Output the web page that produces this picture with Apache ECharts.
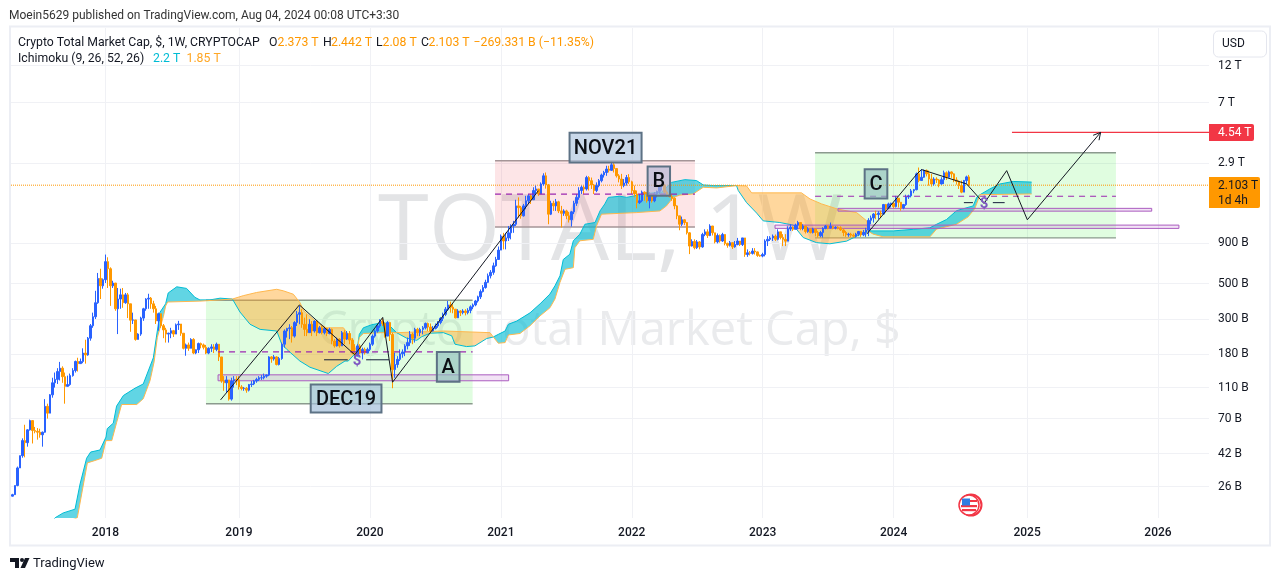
<!DOCTYPE html>
<html>
<head>
<meta charset="utf-8">
<title>TOTAL 1W</title>
<script src="https://cdn.jsdelivr.net/npm/echarts@6/dist/echarts.min.js"></script>
<style>
  html, body { margin: 0; padding: 0; background: #fff; }
  #chart { width: 1281px; height: 581px; }
</style>
</head>
<body>
<div id="chart"></div>
<script>
// values in billions of USD, x position counted in weeks from the first week of 2018
const firstWeek = -37
const firstOpen = 22.6
const closes = [
  23.1,26.4,34.1,40.8,50.8,49.3,59.4,68,58.8,58.2,57.4,55.3,57.4,83.7,75.8,99,118,124,139,146,
  129,112,115,131,141,161,156,161,182,177,226,271,309,379,540,485,530,690,622,485,
  505,347,400,425,379,425,373,294,295,222,240,303,347,400,405,373,347,291,323,271,
  255,240,243,252,240,275,278,243,195,205,195,222,182,191,209,205,198,182,195,199,
  192,207,172,121,118,123,93,121,124,123,111,108.5,109,106,115,116,121,124,127,127,
  130,132,172,167,172,154,168,207,251,260,263,233,284,320,328,277,257,245,277,251,
  290,245,263,245,260,242,257,217,202,223,202,245,223,242,220,182,174,202,182,192,
  182,192,207,233,251,270,290,280,233,284,239,143,154,166,180,185,202,212,239,226,
  257,245,257,263,280,266,251,260,270,284,302,320,345,367,355,345,304,336,328,336,
  328,339,357,367,389,413,446,473,510,561,590,649,712,816,1000,932,975,1050,1160,1190,
  1555,1515,1345,1555,1675,1800,1700,1945,1990,1850,2140,2410,2110,1378,1615,1555,1650,1445,1395,1445,
  1345,1270,1425,1615,1760,1945,2040,1990,2350,2245,2110,1945,2090,2245,2440,2530,2660,2610,2830,2680,
  2410,2300,2090,2170,2350,2210,1945,1850,1630,1675,1900,1850,1675,1800,1675,1850,1920,2070,2090,1900,
  1850,1780,1740,1555,1345,1190,1270,1220,1050,866,925,845,920,855,1025,1065,1010,1160,1050,920,
  1010,932,1025,900,875,910,855,885,932,885,975,765,785,778,805,795,755,748,765,932,
  955,975,1000,955,1065,980,955,930,1110,1140,1105,1175,1220,1120,1160,1070,1110,1055,1110,1055,
  1005,1055,1120,1160,1130,1155,1130,1140,1130,1095,1055,1020,1030,1015,1000,1030,1070,1020,1055,1095,
  1260,1305,1380,1370,1400,1380,1585,1510,1600,1615,1540,1740,1640,1510,1585,1770,1800,1935,1970,2480,
  2250,2360,2610,2480,2300,2140,2300,2270,2140,2280,2520,2360,2550,2480,2270,2220,2090,1900,2250,2373,
  2103
]
const highs = [
  23.4,26.4,34.8,40.8,52.5,64,60,69,68,62,61,60.4,58,93,87,100,127,137,146,160,
  150,137,131,135,146,163,170,168,195,221,230,278,328,451,585,622,540,765,735,635,
  522,505,470,465,470,437,437,373,328,295,243,309,352,405,432,412,390,362,328,323,
  278,263,245,263,255,280,291,278,243,209,212,226,226,192,212,212,209,205,198,207,
  207,212,207,172,130,130,123,127,130,130,130,114,111,111,116,121,123,127,130,132,
  135,133,174,174,177,174,172,212,257,263,277,270,290,336,362,345,305,320,298,290,
  293,293,270,270,263,263,263,260,223,228,226,251,254,251,251,226,207,207,207,197,
  197,197,212,239,257,277,298,302,284,290,287,245,183,174,192,192,207,228,251,245,
  263,263,263,270,284,284,280,270,280,290,308,328,356,389,385,371,345,345,340,345,
  345,350,365,375,395,420,460,490,530,580,610,680,740,860,1025,1050,1050,1160,1190,1250,
  1700,1760,1555,1600,1800,1850,1850,2040,2090,1990,2190,2500,2530,2140,1675,1675,1720,1675,1555,1480,
  1470,1425,1445,1675,1850,2040,2090,2090,2410,2400,2350,2140,2190,2300,2490,2590,2790,2790,2960,2900,
  2680,2470,2480,2300,2440,2470,2245,2090,1945,1850,1945,1920,1900,1900,1850,1900,1945,2110,2140,2140,
  1945,1920,1850,1760,1570,1345,1330,1280,1230,1060,955,955,945,932,1050,1105,1105,1190,1160,1050,
  1040,1025,1050,1025,910,932,910,932,975,932,975,975,825,805,840,840,800,765,785,955,
  1000,1000,1025,1025,1105,1050,1030,1030,1155,1190,1155,1200,1250,1220,1190,1160,1140,1120,1130,1120,
  1080,1080,1140,1175,1175,1220,1160,1155,1155,1155,1120,1080,1050,1050,1040,1050,1080,1080,1095,1130,
  1300,1350,1400,1450,1440,1450,1600,1600,1630,1630,1630,1800,1740,1640,1600,1830,1830,1990,1990,2530,
  2720,2660,2640,2640,2600,2480,2360,2360,2300,2360,2600,2570,2600,2570,2500,2360,2250,2250,2270,2415,
  2442
]
const lows = [
  22.5,23,26.1,34.1,39.6,39.8,46.5,58.8,48.7,56.5,51.5,53,46.5,57,70,76,95,110,116,122,
  118,87,112,113,129,137,139,156,157,156,175,218,263,299,373,400,465,505,470,362,
  470,337,240,347,352,373,303,248,278,218,222,234,291,337,347,347,328,278,252,263,
  226,212,212,226,230,240,255,234,192,175,188,195,179,179,182,195,192,179,179,185,
  182,187,162,118,105,102,91,91,110,114,107,105.6,105,102,104,111,114,118,121,123,
  124,127,130,158,163,152,152,165,197,228,223,212,228,270,277,263,233,233,245,233,
  245,233,242,239,239,233,239,207,197,200,197,202,207,220,207,179,170,174,179,166,
  178,182,187,202,228,245,263,270,228,233,217,109,127,147,162,170,174,192,202,207,
  212,233,233,239,257,251,242,249,257,263,277,290,312,336,328,325,302,305,312,320,
  315,320,325,345,360,380,400,440,465,505,540,570,640,712,825,825,825,932,955,1050,
  1160,1310,1290,1330,1480,1600,1600,1700,1850,1800,1850,2090,2000,1190,1360,1445,1445,1400,1135,1345,
  1280,1220,1150,1380,1555,1700,1850,1850,1945,1945,1990,1850,1900,2040,2190,2350,2410,2530,2590,2530,
  2350,2190,1990,2040,2090,2140,1850,1760,1500,1600,1640,1675,1630,1500,1630,1640,1760,1850,1945,1850,
  1780,1760,1675,1480,1280,1090,1160,1175,1025,770,860,825,830,825,845,1000,975,1000,1010,900,
  900,910,920,875,845,860,830,845,875,866,866,740,740,755,765,765,740,740,735,745,
  866,932,932,932,940,955,865,865,955,1080,1080,1105,1105,1090,1090,1040,1050,1040,1040,1000,
  980,985,980,1105,1105,1120,1105,1105,1105,1080,1000,990,990,990,980,980,1000,990,1000,990,
  1000,1190,1220,1280,1280,1310,1370,1410,1480,1520,1500,1520,1520,1450,1480,1555,1720,1760,1870,1950,
  2195,2270,2340,2390,2090,2060,2090,2170,2040,2120,2140,2270,2340,2340,2195,2120,1990,1870,1930,2140,
  2080
]

// ichimoku leading spans, read as [week, value]
const spanA = [
  [-22,15],[-20,16.5],[-16.8,17.7],[-12.1,18.7],[-10.1,27],[-7.5,39.3],[-5.9,43],[-2.2,44.3],[0.2,53.5],[0.7,60.5],
  [3.1,65.5],[4.4,84],[7.1,98],[11.7,109],[15,116],[19,170],[21,279],[21.6,329],[23.9,374],[24.9,437],
  [28.3,478],[32.2,467],[35.5,410],[37.5,395],[41.5,395],[45.5,405],[50.4,400],[53.4,331],[57.4,277],[61.4,257],
  [68,251],[70,207],[72,192],[77.2,162],[81.2,148],[88.5,135],[91.8,150],[95.1,162],[96.4,162],[99.8,185],
  [100.8,239],[102.4,263],[105.7,275],[110.3,284],[112.3,277],[115.6,245],[119.6,226],[123.6,219],[125.6,231],[128.9,243],
  [134.2,245],[137.5,234],[138.8,207],[143.4,200],[146.7,202],[151.4,225],[154,230],[156,239],[158.7,251],[160,277],
  [163.3,290],[168.6,327],[172.6,373],[176.5,430],[178.5,485],[180.5,561],[181.8,712],[184.4,768],[185.8,935],[188.4,1030],
  [190.4,1190],[194.4,1220],[196.4,1445],[198.3,1600],[199.7,1760],[204.3,1790],[207,1760],[213.6,1850],[220.8,1900],[224.8,2190],
  [230.1,2280],[234.7,2250],[237.4,2110],[241.4,2090],[250.6,2090],[251.3,1945],[254.6,1630],[258.6,1400],[261.2,1250],[267.8,1220],
  [273.1,1175],[277.1,980],[282.4,910],[287.7,895],[294.3,930],[298.3,1000],[302.7,1080],[312.9,1080],[320.8,1105],[327.4,1130],
  [330.1,1190],[334,1275],[338,1450],[344.6,1555],[346,1760],[347.3,1830],[351.2,1990],[355.2,2140],[360.5,2220],[367.8,2200]
]
const spanB = [
  [-22,14],[-11.2,16.5],[-7.2,36.7],[-4.2,38],[-1.5,39.3],[0.2,50.8],[2.5,50.8],[4.4,66],[6.4,86],[12.4,86],
  [15,93.5],[17.7,122],[19.3,160],[20.6,229],[23,311],[23.9,362],[24.7,383],[37.5,388],[45.5,395],[50.4,400],
  [54.7,420],[60,440],[68,461],[70.6,451],[74.6,429],[77.2,380],[78.8,336],[83.9,284],[87.8,263],[94.5,263],
  [97.8,223],[99.8,185],[100.8,228],[102.4,242],[110.3,245],[115.6,245],[128.9,249],[134.2,251],[152.7,245],[154,230],
  [156,210],[158.7,212],[160,237],[164.6,242],[168.6,271],[172.6,313],[176.5,352],[178.5,400],[180.5,510],[182.5,617],
  [185.8,632],[186.4,845],[188.4,935],[193.7,955],[195,1160],[197,1378],[210.9,1410],[220.2,1445],[222.8,1555],[225.5,1760],
  [228.1,1820],[233.4,1850],[237.4,2040],[242.7,2020],[250.6,2090],[254.6,2080],[256.6,1880],[276.4,1880],[279.8,1720],[284.4,1600],
  [291,1480],[298.3,1410],[302.3,1250],[302.7,1080],[304.9,1030],[308.9,990],[327.4,990],[330.1,1110],[338,1190],[342.6,1325],
  [345.3,1500],[347.3,1830],[347.9,1850],[367.8,1850]
]
const spanCrossings = [-22, 50.4, 99.8, 115.6, 154, 250.6, 302.7, 367.8]

const yearLabels = ['2018', '2019', '2020', '2021', '2022', '2023', '2024', '2025', '2026']
const yearWeeks = [0, 53, 105, 157, 209, 261, 313, 366, 418]
const priceTicks = [12000, 7000, 2900, 900, 500, 300, 180, 110, 70, 42, 26]
const priceTickLabels = ['12 T', '7 T', '2.9 T', '900 B', '500 B', '300 B', '180 B', '110 B', '70 B', '42 B', '26 B']

// drawings on the chart: [week, week, value, value]
const greenZones = [[39.9, 145.8, 393, 87], [281.8, 401.3, 3370, 975]]
const pinkZones = [[154.7, 234.1, 3000, 1143]]
const purpleBars = [[44.7, 160.1, 132.5, 121.5], [290.9, 415.5, 1500, 1440], [265.9, 426.3, 1175, 1120]]
const labelBoxes = [
  { text: 'NOV21', box: [184.3, 212.9, 4510, 2930], fill: 'rgba(178,199,224,0.7)' },
  { text: 'DEC19', box: [81.5, 109.6, 115, 76.5], fill: 'rgba(164,191,218,0.7)' },
  { text: 'A', box: [131.6, 140.6, 185, 120], fill: 'rgba(144,190,190,0.65)' },
  { text: 'B', box: [215.3, 224.2, 2760, 1800], fill: 'rgba(178,180,210,0.65)' },
  { text: 'C', box: [301.5, 310.5, 2650, 1730], fill: 'rgba(144,190,190,0.65)' }
]
const dashedLines = [[44.7, 145.8, 185], [154.7, 234.1, 1845], [281.8, 401.3, 1790]]
const shortLines = [[86.8, 96.2, 165], [103.5, 112.6, 165], [340.9, 344.5, 1630], [352.4, 357.1, 1630]]
const trendOne = [[45.7, 92], [77, 367], [99, 177.5], [110.1, 306], [114, 119], [171.9, 1940]]
const trendTwo = [[302.3, 1030], [322.2, 2470], [324.1, 2640], [342, 2140], [348.9, 1610], [357.9, 2600], [366.1, 1270], [395.2, 4540]]
const flagMarks = [[99.9, 162], [348.9, 1600]]
const targetPrice = 4540
const targetStart = 360
const lastPrice = 2103

const weekMin = -37.53
const weekMax = 438.25
const priceMin = 16.44
const priceMax = 20788
const uiFont = 'Roboto, "Noto Sans", sans-serif'
const legendFont = '12.25px ' + uiFont

const candles = closes.map((c, i) => {
  const o = i === 0 ? firstOpen : closes[i - 1]
  return [firstWeek + i, o, c, Math.min(lows[i], o, c), Math.max(highs[i], o, c)]
})

function polygonBetween (from, to) {
  const inside = p => p[0] >= from - 0.01 && p[0] <= to + 0.01
  return spanA.filter(inside).concat(spanB.filter(inside).reverse())
}
const cloudParts = spanCrossings.slice(1).map((to, i) => ({
  points: polygonBetween(spanCrossings[i], to),
  fill: i % 2 === 0 ? 'rgba(0,188,212,0.62)' : 'rgba(255,167,38,0.45)'
}))

function drawZone (zone, api, fill, edge) {
  const a = api.coord([zone[0], zone[2]])
  const b = api.coord([zone[1], zone[3]])
  return {
    type: 'group',
    children: [
      { type: 'rect', shape: { x: a[0], y: a[1], width: b[0] - a[0], height: b[1] - a[1] }, style: { fill: fill } },
      { type: 'line', shape: { x1: a[0], y1: a[1], x2: b[0], y2: a[1] }, style: { stroke: edge, lineWidth: 1.4 } },
      { type: 'line', shape: { x1: a[0], y1: b[1], x2: b[0], y2: b[1] }, style: { stroke: edge, lineWidth: 1.4 } }
    ]
  }
}

const helperSeries = (name, data, color, width, type, z) => ({
  name: name,
  type: 'line',
  data: data,
  z: z,
  symbol: 'none',
  silent: true,
  animation: false,
  lineStyle: { color: color, width: width, type: type || 'solid' }
})

let option = {
  animation: false,
  backgroundColor: '#fff',
  textStyle: { fontFamily: uiFont },
  grid: { left: 11, right: 72, top: 28, bottom: 63 },
  xAxis: {
    type: 'value',
    min: weekMin,
    max: weekMax,
    axisLine: { show: false },
    axisTick: { show: false, customValues: yearWeeks },
    splitLine: { show: true, lineStyle: { color: '#f0f1f5', width: 1 } },
    axisLabel: {
      customValues: yearWeeks,
      color: '#131722',
      fontSize: 12,
      fontWeight: 500,
      margin: 9,
      hideOverlap: false,
      formatter: v => yearLabels[yearWeeks.indexOf(Math.round(v))]
    }
  },
  yAxis: {
    type: 'log',
    position: 'right',
    min: priceMin,
    max: priceMax,
    axisLine: { show: false },
    axisTick: { show: false, customValues: priceTicks },
    splitLine: { show: true, lineStyle: { color: '#f0f1f5', width: 1 } },
    axisLabel: {
      customValues: priceTicks,
      color: '#131722',
      fontSize: 12,
      margin: 9,
      formatter: v => {
        const i = priceTicks.findIndex(t => Math.abs(t - v) < 0.01 * t)
        return i < 0 ? '' : priceTickLabels[i]
      }
    }
  },
  series: [
    {
      type: 'custom',
      name: 'zones',
      z: 1,
      silent: true,
      clip: true,
      data: greenZones.concat(pinkZones).map(z => [z[0], z[2]]),
      renderItem: (params, api) => {
        const i = params.dataIndex
        return i < greenZones.length
          ? drawZone(greenZones[i], api, 'rgba(0,238,0,0.12)', '#8b9a8e')
          : drawZone(pinkZones[i - greenZones.length], api, 'rgba(242,54,69,0.13)', '#a59597')
      }
    },
    {
      type: 'custom',
      name: 'cloud',
      z: 2,
      silent: true,
      clip: true,
      data: cloudParts.map(p => p.points[0]),
      renderItem: (params, api) => {
        const part = cloudParts[params.dataIndex]
        return {
          type: 'polygon',
          shape: { points: part.points.map(p => api.coord(p)) },
          style: { fill: part.fill }
        }
      }
    },
    helperSeries('Senkou A', spanA, '#00bcd4', 1, 'solid', 2),
    helperSeries('Senkou B', spanB, '#ffb74d', 1, 'solid', 2),
    {
      type: 'custom',
      name: 'bars',
      z: 3,
      silent: true,
      clip: true,
      data: purpleBars.map(b => [b[0], b[2]]),
      renderItem: (params, api) => {
        const bar = purpleBars[params.dataIndex]
        const a = api.coord([bar[0], bar[2]])
        const b = api.coord([bar[1], bar[3]])
        return {
          type: 'rect',
          shape: { x: a[0], y: a[1], width: b[0] - a[0], height: b[1] - a[1] },
          style: { fill: 'rgba(156,39,176,0.13)', stroke: '#ab5cc0', lineWidth: 1 }
        }
      }
    },
    helperSeries('last', [[weekMin, lastPrice], [weekMax, lastPrice]], '#ff9800', 1, 'dotted', 3),
    helperSeries('target', [[targetStart, targetPrice], [weekMax, targetPrice]], '#f23645', 1.2, 'solid', 4),
    {
      type: 'candlestick',
      name: 'TOTAL',
      z: 4,
      barWidth: 2,
      silent: true,
      data: candles,
      itemStyle: {
        color: '#2962ff',
        color0: '#ff9800',
        borderColor: '#2962ff',
        borderColor0: '#ff9800',
        borderWidth: 1
      }
    }
  ]
    .concat(dashedLines.map((d, i) => helperSeries('dash' + i, [[d[0], d[2]], [d[1], d[2]]], '#9c27b0', 1.2, [6, 5], 5)))
    .concat(shortLines.map((d, i) => helperSeries('short' + i, [[d[0], d[2]], [d[1], d[2]]], '#131d3a', 1, 'solid', 5)))
    .concat([
      helperSeries('trend one', trendOne, '#131722', 1, 'solid', 6),
      helperSeries('trend two', trendTwo, '#131722', 1, 'solid', 6),
      {
        type: 'custom',
        name: 'arrow',
        z: 6,
        silent: true,
        data: [trendTwo[trendTwo.length - 1]],
        renderItem: (params, api) => {
          const tip = api.coord(trendTwo[trendTwo.length - 1])
          const back = api.coord(trendTwo[trendTwo.length - 2])
          const angle = Math.atan2(back[1] - tip[1], back[0] - tip[0])
          const wing = d => [tip[0] + 8 * Math.cos(angle + d), tip[1] + 8 * Math.sin(angle + d)]
          return {
            type: 'polyline',
            shape: { points: [wing(0.5), tip, wing(-0.5)] },
            style: { stroke: '#131722', lineWidth: 1, fill: null }
          }
        }
      },
      {
        type: 'custom',
        name: 'flags',
        z: 7,
        silent: true,
        data: flagMarks,
        renderItem: (params, api) => {
          const p = api.coord(flagMarks[params.dataIndex])
          return {
            type: 'text',
            x: p[0],
            y: p[1],
            style: {
              text: '$', fill: '#7e57c2', font: 'bold 15px ' + uiFont,
              align: 'center', verticalAlign: 'middle'
            }
          }
        }
      },
      {
        type: 'custom',
        name: 'labels',
        z: 7,
        silent: true,
        data: labelBoxes.map(l => [l.box[0], l.box[2]]),
        renderItem: (params, api) => {
          const item = labelBoxes[params.dataIndex]
          const a = api.coord([item.box[0], item.box[2]])
          const b = api.coord([item.box[1], item.box[3]])
          return {
            type: 'group',
            children: [
              {
                type: 'rect',
                shape: { x: a[0], y: a[1], width: b[0] - a[0], height: b[1] - a[1] },
                style: { fill: item.fill, stroke: '#5d7285', lineWidth: 2 }
              },
              {
                type: 'text',
                x: (a[0] + b[0]) / 2,
                y: (a[1] + b[1]) / 2 + 1,
                style: {
                  text: item.text, fill: '#0b0e14', font: '500 20px ' + uiFont,
                  align: 'center', verticalAlign: 'middle'
                }
              }
            ]
          }
        }
      }
    ]),
  graphic: [
    { type: 'text', z: -1, left: 378, top: 188, style: { text: 'TOTAL, 1W', fill: '#e3e4e6', font: '92px "Open Sans", sans-serif' } },
    { type: 'text', z: -1, left: 318, top: 308, style: { text: 'Crypto Total Market Cap, $', fill: '#eaebed', font: '47px "Open Sans", sans-serif' } },

    { type: 'rect', z: 10, silent: true, shape: { x: 10, y: 26.5, width: 1260, height: 519 }, style: { fill: null, stroke: '#eceef4', lineWidth: 2 } },
    { type: 'text', z: 10, x: 9, y: 10, style: { text: 'Moein5629 published on TradingView.com, Aug 04, 2024 00:08 UTC+3:30', fill: '#333', font: '12px ' + uiFont } },

    { type: 'text', z: 10, x: 18, y: 37, style: { text: 'Crypto Total Market Cap, $, 1W, CRYPTOCAP', fill: '#131722', font: legendFont } },
    { type: 'text', z: 10, x: 269, y: 37, style: { text: 'O', fill: '#131722', font: legendFont } },
    { type: 'text', z: 10, x: 277.5, y: 37, style: { text: '2.373 T', fill: '#ff9800', font: legendFont } },
    { type: 'text', z: 10, x: 323, y: 37, style: { text: 'H', fill: '#131722', font: legendFont } },
    { type: 'text', z: 10, x: 331, y: 37, style: { text: '2.442 T', fill: '#ff9800', font: legendFont } },
    { type: 'text', z: 10, x: 376, y: 37, style: { text: 'L', fill: '#131722', font: legendFont } },
    { type: 'text', z: 10, x: 382.5, y: 37, style: { text: '2.08 T', fill: '#ff9800', font: legendFont } },
    { type: 'text', z: 10, x: 421, y: 37, style: { text: 'C', fill: '#131722', font: legendFont } },
    { type: 'text', z: 10, x: 428.5, y: 37, style: { text: '2.103 T', fill: '#ff9800', font: legendFont } },
    { type: 'text', z: 10, x: 473.5, y: 37, style: { text: '\u2212269.331 B (\u221211.35%)', fill: '#ff9800', font: legendFont } },
    { type: 'text', z: 10, x: 18, y: 53, style: { text: 'Ichimoku (9, 26, 52, 26)', fill: '#131722', font: legendFont } },
    { type: 'text', z: 10, x: 153, y: 53, style: { text: '2.2 T', fill: '#00bcd4', font: legendFont } },
    { type: 'text', z: 10, x: 186.5, y: 53, style: { text: '1.85 T', fill: '#ffa726', font: legendFont } },

    { type: 'rect', z: 10, shape: { x: 1213.5, y: 31, width: 53, height: 26, r: 5 }, style: { fill: '#fff', stroke: '#e4e6ee', lineWidth: 1 } },
    { type: 'text', z: 10, x: 1222, y: 38, style: { text: 'USD', fill: '#131722', font: '12px ' + uiFont } },

    { type: 'rect', z: 10, shape: { x: 1209, y: 124, width: 45, height: 17, r: [0, 2, 2, 0] }, style: { fill: '#f23645' } },
    { type: 'text', z: 11, x: 1218, y: 127, style: { text: '4.54 T', fill: '#fff', font: '12px ' + uiFont } },
    { type: 'rect', z: 10, shape: { x: 1209, y: 177, width: 51, height: 31, r: [0, 2, 2, 0] }, style: { fill: '#ff9800' } },
    { type: 'text', z: 11, x: 1218, y: 180, style: { text: '2.103 T', fill: '#131722', font: '12px ' + uiFont } },
    { type: 'text', z: 11, x: 1218, y: 195, style: { text: '1d 4h', fill: '#131722', font: '12px ' + uiFont } },

    // TradingView mark
    { type: 'polygon', z: 10, shape: { points: [[10, 558], [19, 558], [19, 568], [15, 568], [15, 562], [10, 562]] }, style: { fill: '#131722' } },
    { type: 'circle', z: 10, shape: { cx: 22, cy: 560, r: 2 }, style: { fill: '#131722' } },
    { type: 'polygon', z: 10, shape: { points: [[25, 558], [29.5, 558], [25, 568], [20.5, 568]] }, style: { fill: '#131722' } },
    { type: 'text', z: 10, x: 33, y: 557, style: { text: 'TradingView', fill: '#131722', font: '13px ' + uiFont } },

    // US flag badge
    { type: 'circle', z: 10, shape: { cx: 971, cy: 505, r: 10.5 }, style: { fill: '#fff', stroke: '#f23645', lineWidth: 2 } },
    { type: 'circle', z: 10, shape: { cx: 969, cy: 505, r: 10 }, style: { fill: '#fff', stroke: '#f23645', lineWidth: 1.5 } },
    { type: 'rect', z: 11, shape: { x: 961, y: 505, width: 16, height: 2.2 }, style: { fill: '#f23645' } },
    { type: 'rect', z: 11, shape: { x: 962, y: 509, width: 14, height: 2.2 }, style: { fill: '#f23645' } },
    { type: 'rect', z: 11, shape: { x: 962, y: 498.5, width: 8, height: 7 }, style: { fill: '#2f7de1' } },
    { type: 'rect', z: 11, shape: { x: 970, y: 500, width: 7, height: 2 }, style: { fill: '#f23645' } }
  ]
}

let mychart = echarts.init(document.getElementById('chart'), null, { renderer: 'canvas' })
mychart.setOption(option)
</script>
</body>
</html>
